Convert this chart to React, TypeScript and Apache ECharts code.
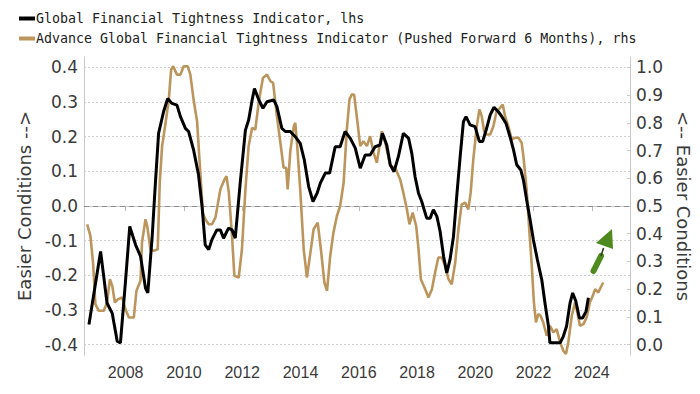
import React, { useEffect, useRef } from "react";
import * as echarts from "echarts";

// Global Financial Tightness Indicator (lhs)
const blackYears = [
  2006.74, 2007.14, 2007.36, 2007.54, 2007.71, 2007.82, 2007.99, 2008.14, 2008.34, 2008.51,
  2008.68, 2008.76, 2008.91, 2009.02, 2009.13, 2009.3, 2009.44, 2009.59, 2009.76, 2009.88,
  2010.05, 2010.16, 2010.33, 2010.5, 2010.62, 2010.73, 2010.85, 2010.96, 2011.13, 2011.25,
  2011.36, 2011.53, 2011.65, 2011.76, 2011.93, 2012.11, 2012.22, 2012.34, 2012.42, 2012.57,
  2012.71, 2012.85, 2013.08, 2013.19, 2013.36, 2013.48, 2013.65, 2013.82, 2013.99, 2014.13,
  2014.28, 2014.43, 2014.57, 2014.68, 2014.85, 2015.0, 2015.19, 2015.36, 2015.53, 2015.71,
  2015.88, 2016.05, 2016.22, 2016.39, 2016.56, 2016.73, 2016.81, 2016.96, 2017.08, 2017.21,
  2017.36, 2017.53, 2017.71, 2017.82, 2017.93, 2018.05, 2018.16, 2018.33, 2018.45, 2018.56,
  2018.68, 2018.79, 2018.91, 2019.02, 2019.13, 2019.25, 2019.36, 2019.48, 2019.59, 2019.68,
  2019.82, 2019.99, 2020.14, 2020.25, 2020.37, 2020.51, 2020.64, 2020.79, 2020.91, 2021.05,
  2021.19, 2021.31, 2021.42, 2021.56, 2021.65, 2021.76, 2021.88, 2021.99, 2022.13, 2022.28,
  2022.39, 2022.51, 2022.56, 2022.91, 2023.02, 2023.13, 2023.25, 2023.34, 2023.45, 2023.57,
  2023.68, 2023.8, 2023.88,
];
const blackValues = [
  -0.342, -0.131, -0.28, -0.31, -0.39, -0.395, -0.222, -0.059, -0.112, -0.145,
  -0.237, -0.251, -0.088, 0.066, 0.21, 0.272, 0.31, 0.296, 0.291, 0.258,
  0.224, 0.215, 0.162, 0.09, 0.0, -0.112, -0.126, -0.097, -0.069, -0.069,
  -0.093, -0.064, -0.069, -0.093, 0.066, 0.219, 0.248, 0.306, 0.339, 0.306,
  0.282, 0.301, 0.306, 0.287, 0.224, 0.215, 0.215, 0.2, 0.181, 0.133,
  0.056, 0.013, 0.037, 0.066, 0.095, 0.095, 0.171, 0.171, 0.215, 0.195,
  0.167, 0.109, 0.147, 0.147, 0.171, 0.176, 0.21, 0.176, 0.119, 0.099,
  0.143, 0.21, 0.195, 0.152, 0.085, 0.037, 0.013, -0.035, -0.035, -0.011,
  -0.03, -0.073, -0.145, -0.193, -0.155, -0.088, 0.027, 0.143, 0.243, 0.258,
  0.234, 0.229, 0.186, 0.186, 0.219, 0.263, 0.285, 0.272, 0.258, 0.239,
  0.2, 0.162, 0.119, 0.104, 0.075, 0.018, -0.04, -0.097, -0.155, -0.213,
  -0.28, -0.347, -0.395, -0.395, -0.376, -0.347, -0.28, -0.251, -0.275, -0.323,
  -0.323, -0.304, -0.265,
];

// Advance Global Financial Tightness Indicator, pushed forward 6 months (rhs)
const tanYears = [
  2006.68, 2006.79, 2006.88, 2006.96, 2007.08, 2007.25, 2007.36, 2007.46, 2007.54, 2007.63,
  2007.74, 2007.88, 2007.99, 2008.11, 2008.28, 2008.37, 2008.51, 2008.56, 2008.68, 2008.74,
  2008.85, 2008.96, 2009.1, 2009.17, 2009.25, 2009.37, 2009.48, 2009.56, 2009.63, 2009.76,
  2009.88, 2009.99, 2010.13, 2010.22, 2010.33, 2010.45, 2010.54, 2010.65, 2010.73, 2010.85,
  2010.96, 2011.08, 2011.25, 2011.39, 2011.46, 2011.54, 2011.65, 2011.73, 2011.88, 2011.99,
  2012.11, 2012.22, 2012.34, 2012.45, 2012.57, 2012.71, 2012.85, 2012.97, 2013.06, 2013.19,
  2013.31, 2013.42, 2013.51, 2013.56, 2013.65, 2013.77, 2013.82, 2013.88, 2013.99, 2014.11,
  2014.22, 2014.34, 2014.45, 2014.59, 2014.7, 2014.82, 2014.91, 2015.02, 2015.13, 2015.25,
  2015.36, 2015.48, 2015.59, 2015.68, 2015.76, 2015.84, 2015.93, 2016.05, 2016.16, 2016.28,
  2016.39, 2016.51, 2016.62, 2016.71, 2016.79, 2016.91, 2017.08, 2017.25, 2017.42, 2017.53,
  2017.65, 2017.74, 2017.85, 2017.97, 2018.05, 2018.13, 2018.28, 2018.39, 2018.51, 2018.62,
  2018.73, 2018.85, 2018.96, 2019.08, 2019.19, 2019.31, 2019.42, 2019.53, 2019.65, 2019.76,
  2019.84, 2019.93, 2020.05, 2020.14, 2020.22, 2020.3, 2020.39, 2020.51, 2020.62, 2020.73,
  2020.85, 2020.94, 2021.02, 2021.13, 2021.25, 2021.36, 2021.48, 2021.59, 2021.65, 2021.76,
  2021.85, 2021.93, 2022.01, 2022.08, 2022.16, 2022.24, 2022.33, 2022.45, 2022.56, 2022.68,
  2022.79, 2022.91, 2023.02, 2023.11, 2023.19, 2023.31, 2023.42, 2023.5, 2023.59, 2023.71,
  2023.82, 2023.93, 2024.03, 2024.11, 2024.22, 2024.3, 2024.39,
];
const tanValues = [
  0.434, 0.392, 0.296, 0.146, 0.122, 0.122, 0.152, 0.236, 0.212, 0.152,
  0.164, 0.17, 0.128, 0.098, 0.098, 0.194, 0.23, 0.368, 0.452, 0.428,
  0.344, 0.338, 0.344, 0.584, 0.716, 0.8, 0.884, 0.992, 1.004, 0.974,
  0.974, 1.004, 1.004, 0.974, 0.884, 0.806, 0.656, 0.476, 0.452, 0.434,
  0.434, 0.458, 0.56, 0.596, 0.608, 0.548, 0.392, 0.248, 0.242, 0.344,
  0.56, 0.716, 0.782, 0.776, 0.878, 0.962, 0.974, 0.95, 0.944, 0.824,
  0.728, 0.638, 0.638, 0.56, 0.698, 0.788, 0.8, 0.728, 0.56, 0.344,
  0.242, 0.332, 0.416, 0.44, 0.344, 0.224, 0.194, 0.32, 0.404, 0.464,
  0.5, 0.584, 0.776, 0.884, 0.902, 0.902, 0.824, 0.716, 0.734, 0.716,
  0.752, 0.692, 0.656, 0.716, 0.77, 0.728, 0.644, 0.638, 0.596, 0.548,
  0.488, 0.434, 0.476, 0.428, 0.344, 0.236, 0.2, 0.17, 0.2, 0.26,
  0.314, 0.314, 0.284, 0.236, 0.218, 0.296, 0.416, 0.506, 0.512, 0.488,
  0.548, 0.668, 0.788, 0.848, 0.824, 0.77, 0.758, 0.758, 0.788, 0.842,
  0.854, 0.866, 0.824, 0.788, 0.74, 0.746, 0.746, 0.728, 0.68, 0.56,
  0.416, 0.296, 0.152, 0.08, 0.11, 0.104, 0.08, 0.032, 0.068, 0.044,
  0.056, 0.008, -0.022, -0.034, 0.008, 0.104, 0.152, 0.116, 0.068, 0.074,
  0.098, 0.152, 0.176, 0.2, 0.188, 0.206, 0.224,
];

const xTicks = [2008, 2010, 2012, 2014, 2016, 2018, 2020, 2022, 2024];
const leftTicks = [-0.4, -0.3, -0.2, -0.1, 0.0, 0.1, 0.2, 0.3, 0.4];
const rightTicks = [0.0, 0.1, 0.2, 0.3, 0.4, 0.5, 0.6, 0.7, 0.8, 0.9, 1.0];

const blackName = "Global Financial Tightness Indicator, lhs";
const tanName = "Advance Global Financial Tightness Indicator (Pushed Forward 6 Months), rhs";

const BLACK = "#000000";
const TAN = "#BC955C";
const GREEN = "#4E8A1E";
const AXIS = "#c8c8c8";
const LABEL = "#3a3a3a";

export default function App() {
  const ref = useRef<HTMLDivElement>(null);
  useEffect(() => {
    if (!ref.current) return;
    const chart = echarts.init(ref.current, undefined, { renderer: "svg" });
    const option: any = {
      animation: false,
      backgroundColor: "#ffffff",
      legend: {
        orient: "vertical",
        left: 14,
        top: 7,
        icon: "rect",
        itemWidth: 16,
        itemHeight: 4,
        itemGap: 7,
        data: [blackName, tanName],
        textStyle: {
          fontFamily: "DejaVu Sans Mono",
          fontSize: 13.3,
          color: "#222",
          padding: [0, 0, 0, -4],
        },
      },
      grid: { left: 84, right: 69, top: 57, bottom: 39 },
      xAxis: {
        type: "value",
        min: 2006.57,
        max: 2025.31,
        splitLine: { show: false },
        axisLine: { show: true, lineStyle: { color: AXIS, width: 1 } },
        axisTick: { show: true, customValues: xTicks, length: 5, lineStyle: { color: "#bbbbbb" } },
        axisLabel: {
          customValues: xTicks,
          formatter: (v: number) => String(Math.round(v)),
          fontFamily: "Liberation Sans",
          fontSize: 16,
          color: LABEL,
          margin: 9,
        },
      },
      yAxis: [
        {
          type: "value",
          min: -0.43,
          max: 0.43,
          splitNumber: 9,
          name: "Easier Conditions -->",
          nameLocation: "middle",
          nameGap: 41,
          nameTextStyle: { fontFamily: "DejaVu Sans", fontSize: 18, color: LABEL },
          axisLine: { show: true, lineStyle: { color: AXIS } },
          axisTick: { show: false },
          splitLine: {
            show: true,
            showMinLine: false,
            showMaxLine: false,
            lineStyle: { color: "#cfcfcf", type: [2, 2], width: 1 },
          },
          axisLabel: {
            customValues: leftTicks,
            formatter: (v: number) => v.toFixed(1),
            fontFamily: "DejaVu Sans",
            fontSize: 17,
            color: LABEL,
            margin: 6,
          },
        },
        {
          type: "value",
          min: -0.0375,
          max: 1.0375,
          position: "right",
          name: "<-- Easier Conditions",
          nameLocation: "middle",
          nameRotate: -90,
          nameGap: 31,
          nameTextStyle: { fontFamily: "DejaVu Sans", fontSize: 18, color: LABEL },
          axisLine: { show: true, lineStyle: { color: AXIS } },
          axisTick: { show: true, inside: true, length: 3, customValues: rightTicks, lineStyle: { color: AXIS } },
          splitLine: { show: false },
          axisLabel: {
            customValues: rightTicks,
            formatter: (v: number) => v.toFixed(1),
            fontFamily: "DejaVu Sans",
            fontSize: 17,
            color: LABEL,
            margin: 6,
          },
        },
      ],
      series: [
        {
          name: tanName,
          type: "line",
          yAxisIndex: 1,
          showSymbol: false,
          symbol: "none",
          color: TAN,
          lineStyle: { color: TAN, width: 2.6 },
          data: tanYears.map((y, i) => [y, tanValues[i]]),
          z: 2,
        },
        {
          name: blackName,
          type: "line",
          yAxisIndex: 0,
          showSymbol: false,
          symbol: "none",
          color: BLACK,
          lineStyle: { color: BLACK, width: 3 },
          data: blackYears.map((y, i) => [y, blackValues[i]]),
          z: 3,
          markLine: {
            silent: true,
            symbol: "none",
            label: { show: false },
            lineStyle: { color: "#8f8f8f", type: [5, 4], width: 1 },
            data: [{ yAxis: 0 }],
            z: 1,
          },
        },
      ],
      graphic: [
        {
          type: "line",
          shape: { x1: 593.5, y1: 271, x2: 601, y2: 256 },
          style: { stroke: GREEN, lineWidth: 6, lineCap: "round" },
          z: 10,
        },
        {
          type: "line",
          shape: { x1: 601, y1: 256, x2: 603.5, y2: 248 },
          style: { stroke: "#2e3a1c", lineWidth: 1.5 },
          z: 10,
        },
        {
          type: "polygon",
          shape: { points: [[596, 243], [612, 229], [613, 249]] },
          style: { fill: GREEN },
          z: 10,
        },
      ],
    };
    chart.setOption(option);
    return () => chart.dispose();
  }, []);
  return <div ref={ref} style={{ width: 700, height: 394, position: "absolute", left: 0, top: 0 }} />;
}
